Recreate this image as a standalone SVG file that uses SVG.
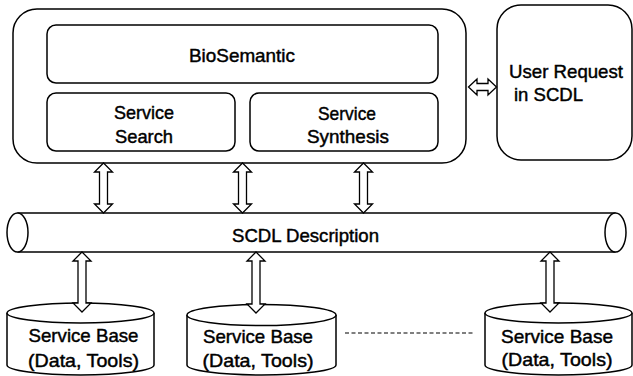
<svg xmlns="http://www.w3.org/2000/svg" width="633" height="376" viewBox="0 0 633 376">
<style>
.box{fill:#fff;stroke:#000;stroke-width:1.5}
.arr{fill:#fff;stroke:#000;stroke-width:1.3;stroke-linejoin:miter}
.t{font-family:"Liberation Sans",Arial,sans-serif;font-size:19px;fill:#000;stroke:#000;stroke-width:0.45}
.c{text-anchor:middle}
.dash{stroke:#000;stroke-width:1.2;stroke-dasharray:4 2.5;fill:none}
</style>
<rect width="633" height="376" fill="#fff"/>
<g id="biosemantic-system">
<rect class="box" x="13" y="9" width="453" height="154" rx="24" ry="24"/>
</g>
<g id="biosemantic">
<rect class="box" x="47" y="25" width="391" height="58" rx="9" ry="9"/>
<text class="t" x="189" y="62" textLength="106" lengthAdjust="spacingAndGlyphs">BioSemantic</text>
</g>
<g id="service-search">
<rect class="box" x="47" y="93" width="188" height="58" rx="9" ry="9"/>
<text class="t c" x="144" y="119" textLength="60" lengthAdjust="spacingAndGlyphs">Service</text>
<text class="t c" x="144" y="143" textLength="58" lengthAdjust="spacingAndGlyphs">Search</text>
</g>
<g id="service-synthesis">
<rect class="box" x="250" y="93" width="188" height="58" rx="9" ry="9"/>
<text class="t c" x="347" y="120" textLength="58" lengthAdjust="spacingAndGlyphs">Service</text>
<text class="t c" x="348" y="143" textLength="82" lengthAdjust="spacingAndGlyphs">Synthesis</text>
</g>
<g id="user-request">
<rect class="box" x="497" y="5" width="135" height="155" rx="24" ry="24"/>
<text class="t" x="509" y="78" textLength="114" lengthAdjust="spacingAndGlyphs">User Request</text>
<text class="t" x="514" y="101" textLength="69" lengthAdjust="spacingAndGlyphs">in SCDL</text>
</g>
<g id="scdl-description">
<path d="M17.5,213 L615.5,213 L615.5,252 L17.5,252 Z" fill="#fff"/>
<line x1="17.5" y1="213" x2="615.5" y2="213" stroke="#000" stroke-width="1.5"/>
<line x1="17.5" y1="252" x2="615.5" y2="252" stroke="#000" stroke-width="1.5"/>
<ellipse class="box" cx="17.5" cy="232.5" rx="10.5" ry="19.5"/>
<ellipse class="box" cx="615.5" cy="232.5" rx="10.5" ry="19.5"/>
<text class="t" x="232" y="242" textLength="147" lengthAdjust="spacingAndGlyphs">SCDL Description</text>
</g>
<g id="service-base-1">
<path class="box" d="M7,313 L7,365 A73.5,10 0 0 0 154,365 L154,313"/>
<ellipse class="box" cx="80.5" cy="313" rx="73.5" ry="10"/>
<text class="t c" x="83.5" y="342" textLength="110" lengthAdjust="spacingAndGlyphs">Service Base</text>
<text class="t c" x="83.5" y="367" textLength="111" lengthAdjust="spacingAndGlyphs">(Data, Tools)</text>
</g>
<g id="service-base-2">
<path class="box" d="M187,315 L187,365 A74.5,10 0 0 0 336,365 L336,315"/>
<ellipse class="box" cx="261.5" cy="315" rx="74.5" ry="10.5"/>
<text class="t c" x="258" y="343" textLength="110" lengthAdjust="spacingAndGlyphs">Service Base</text>
<text class="t c" x="258" y="367" textLength="111" lengthAdjust="spacingAndGlyphs">(Data, Tools)</text>
</g>
<g id="service-base-3">
<path class="box" d="M485,313 L485,365 A73.5,10 0 0 0 632,365 L632,313"/>
<ellipse class="box" cx="558.5" cy="313" rx="73.5" ry="10"/>
<text class="t c" x="557" y="343" textLength="112" lengthAdjust="spacingAndGlyphs">Service Base</text>
<text class="t c" x="557" y="366" textLength="111" lengthAdjust="spacingAndGlyphs">(Data, Tools)</text>
</g>
<g id="connectors">
<path class="arr" d="M103.5,163 L112.5,172 L107.5,172 L107.5,204 L112.5,204 L103.5,213 L94.5,204 L99.5,204 L99.5,172 L94.5,172 Z"/>
<path class="arr" d="M242.5,163 L251.5,172 L246.5,172 L246.5,204 L251.5,204 L242.5,213 L233.5,204 L238.5,204 L238.5,172 L233.5,172 Z"/>
<path class="arr" d="M363.5,163 L372.5,172 L367.5,172 L367.5,204 L372.5,204 L363.5,213 L354.5,204 L359.5,204 L359.5,172 L354.5,172 Z"/>
<path class="arr" d="M82,252 L91,261 L86,261 L86,303 L91,303 L82,312 L73,303 L78,303 L78,261 L73,261 Z"/>
<path class="arr" d="M256,252 L265,261 L260,261 L260,304 L265,304 L256,313 L247,304 L252,304 L252,261 L247,261 Z"/>
<path class="arr" d="M550,252 L559,261 L554,261 L554,303 L559,303 L550,312 L541,303 L546,303 L546,261 L541,261 Z"/>
<path class="arr" d="M468.5,87 L477,79 L477,83.5 L488,83.5 L488,79 L496.5,87 L488,95 L488,90.5 L477,90.5 L477,95 Z"/>
<line class="dash" x1="345" y1="333" x2="473" y2="333"/>
</g>
</svg>
